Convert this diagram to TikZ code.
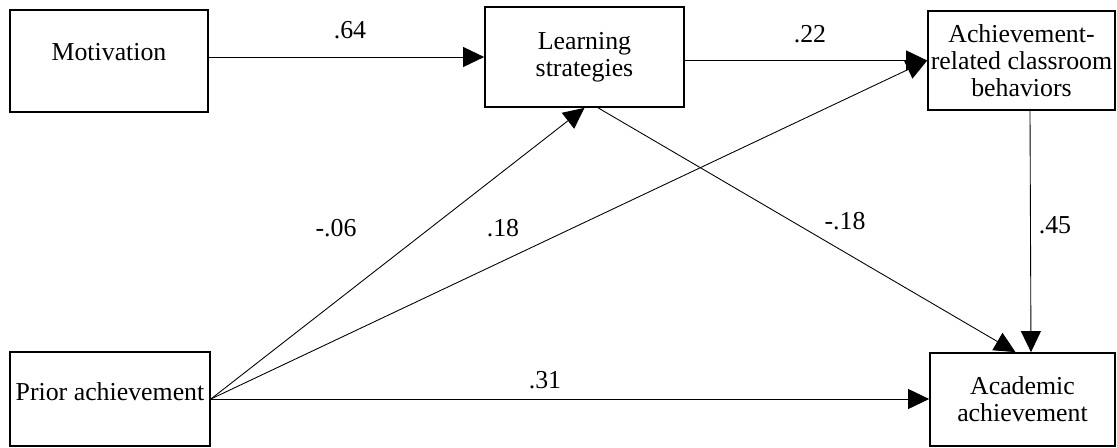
\documentclass[tikz,border=0pt]{standalone}
\usepackage{fontspec}
\setmainfont{Liberation Serif}
\usetikzlibrary{arrows.meta}

\begin{document}
\begin{tikzpicture}[x=0.02cm,y=-0.02cm,
    var/.style={draw,line width=1pt,align=center,inner sep=1pt,
      font=\fontsize{14.7}{15.5}\selectfont},
    path/.style={line width=0.5pt,-{Triangle[length=0.42cm,width=0.4cm]}},
    lbl/.style={font=\fontsize{14.7}{15.5}\selectfont}]
      \useasboundingbox (0,0) rectangle (1117,447);
      % boxes
      \node[var,minimum width=3.96cm,minimum height=2.04cm,text depth=0.36cm] (mot) at (109,61) {Motivation};
      \node[var,minimum width=3.98cm,minimum height=2cm] (learn) at (584.5,57) {Learning\\strategies};
      \node[var,minimum width=3.74cm,minimum height=1.98cm] (acr) at (1021.5,60.5) {Achievement-\\related classroom\\behaviors};
      \node[var,minimum width=4cm,minimum height=1.88cm,text depth=0.3cm] (prior) at (110,399) {Prior achievement};
      \node[var,minimum width=3.7cm,minimum height=1.86cm] (acad) at (1022.5,399.5) {Academic\\achievement};
      % paths
      \draw[path] (mot.east |- learn.west) -- (learn.west);
      \draw[path] (learn.east |- acr.west) -- (acr.west);
      \draw[path] (prior.east) -- (learn.south);
      \draw[path] (prior.east) -- (acr.west);
      \draw[path] (prior.east) -- (prior.east -| acad.west);
      \draw[path] (learn.-75) -- ([xshift=-0.14cm]acad.north);
      \draw[path] ([xshift=0.17cm]acr.south) -- ([xshift=0.17cm]acad.north);
      % coefficients
      \node[lbl] (c64) at (350,30) {.64};
      \node[lbl] (c22) at (810,34) {.22};
      \node[lbl] (c06) at (336,228) {-.06};
      \node[lbl] (c18a) at (503,228) {.18};
      \node[lbl] (c18b) at (845,221) {-.18};
      \node[lbl] (c45) at (1055,225) {.45};
      \node[lbl] (c31) at (545,380) {.31};
\end{tikzpicture}
\end{document}
